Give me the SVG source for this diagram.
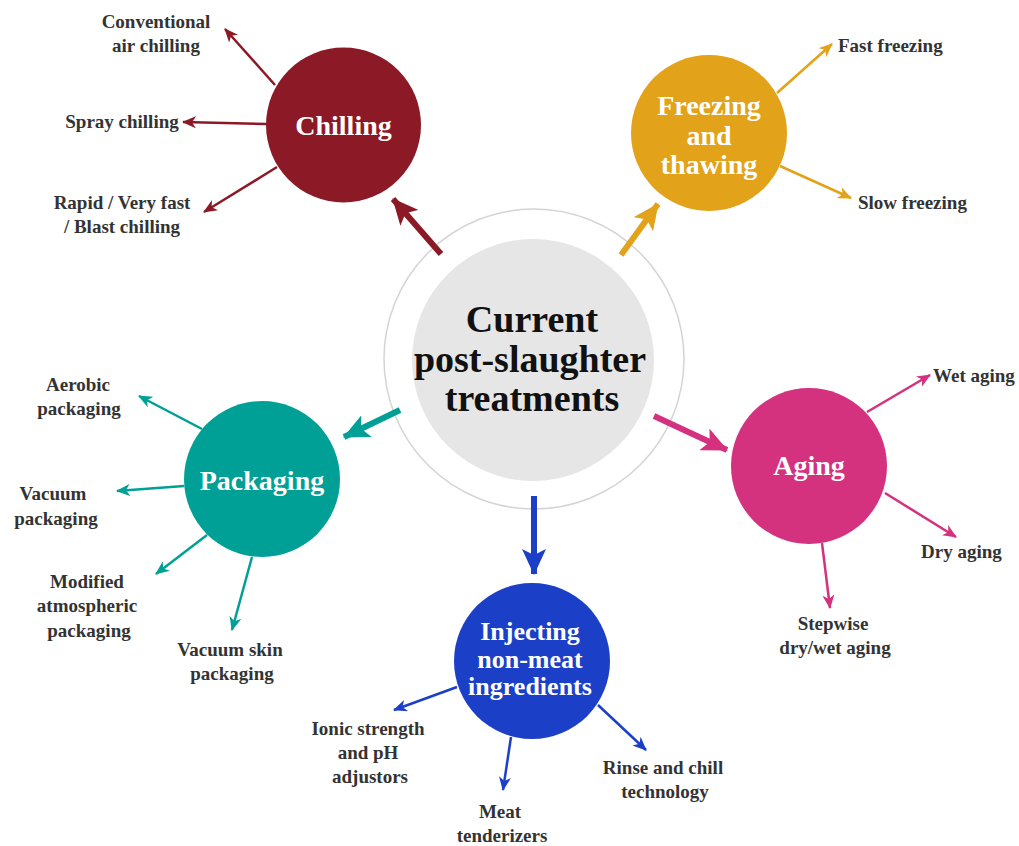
<svg xmlns="http://www.w3.org/2000/svg" width="1019" height="846" viewBox="0 0 1019 846">
<style>
.lbl{font-family:"Liberation Serif","Times New Roman",serif;font-weight:bold;font-size:19px;fill:#333333;text-anchor:middle}
.lbl.l{text-anchor:start}
.node{font-family:"Liberation Serif","Times New Roman",serif;font-weight:bold;font-size:28px;fill:#ffffff;text-anchor:middle}
.ctr{font-family:"Liberation Serif","Times New Roman",serif;font-weight:bold;font-size:38px;fill:#111111;text-anchor:middle}
.s{stroke-width:2.5;fill:none}
.b{stroke-width:6;fill:none}
</style>
<defs>
<marker id="sc" markerUnits="userSpaceOnUse" viewBox="0 0 14 12" markerWidth="14" markerHeight="12" refX="13" refY="6" orient="auto"><path d="M0,0 L14,6 L0,12 L4,6 z" fill="#8B1A26"/></marker>
<marker id="sf" markerUnits="userSpaceOnUse" viewBox="0 0 14 12" markerWidth="14" markerHeight="12" refX="13" refY="6" orient="auto"><path d="M0,0 L14,6 L0,12 L4,6 z" fill="#E2A21A"/></marker>
<marker id="sa" markerUnits="userSpaceOnUse" viewBox="0 0 14 12" markerWidth="14" markerHeight="12" refX="13" refY="6" orient="auto"><path d="M0,0 L14,6 L0,12 L4,6 z" fill="#D4317F"/></marker>
<marker id="sp" markerUnits="userSpaceOnUse" viewBox="0 0 14 12" markerWidth="14" markerHeight="12" refX="13" refY="6" orient="auto"><path d="M0,0 L14,6 L0,12 L4,6 z" fill="#00A096"/></marker>
<marker id="si" markerUnits="userSpaceOnUse" viewBox="0 0 14 12" markerWidth="14" markerHeight="12" refX="13" refY="6" orient="auto"><path d="M0,0 L14,6 L0,12 L4,6 z" fill="#1C3FC8"/></marker>
<marker id="bc" markerUnits="userSpaceOnUse" viewBox="0 0 26 24" markerWidth="26" markerHeight="24" refX="25" refY="12" orient="auto"><path d="M0,0 L26,12 L0,24 L6,12 z" fill="#8B1A26"/></marker>
<marker id="bf" markerUnits="userSpaceOnUse" viewBox="0 0 26 24" markerWidth="26" markerHeight="24" refX="25" refY="12" orient="auto"><path d="M0,0 L26,12 L0,24 L6,12 z" fill="#E2A21A"/></marker>
<marker id="ba" markerUnits="userSpaceOnUse" viewBox="0 0 26 24" markerWidth="26" markerHeight="24" refX="25" refY="12" orient="auto"><path d="M0,0 L26,12 L0,24 L6,12 z" fill="#D4317F"/></marker>
<marker id="bp" markerUnits="userSpaceOnUse" viewBox="0 0 26 24" markerWidth="26" markerHeight="24" refX="25" refY="12" orient="auto"><path d="M0,0 L26,12 L0,24 L6,12 z" fill="#00A096"/></marker>
<marker id="bi" markerUnits="userSpaceOnUse" viewBox="0 0 26 24" markerWidth="26" markerHeight="24" refX="25" refY="12" orient="auto"><path d="M0,0 L26,12 L0,24 L6,12 z" fill="#1C3FC8"/></marker>
</defs>
<rect width="1019" height="846" fill="#ffffff"/>

<g id="center">
<circle cx="534" cy="359" r="150" fill="#ffffff" stroke="#d4d4d4" stroke-width="1.5"/>
<circle cx="533" cy="360" r="121" fill="#e6e6e6"/>
<text class="ctr" x="532" y="332">Current</text>
<text class="ctr" x="530" y="372">post-slaughter</text>
<text class="ctr" x="532" y="411">treatments</text>
</g>

<g id="connectors">
<line class="b" stroke="#8B1A26" x1="441" y1="254" x2="393" y2="199" marker-end="url(#bc)"/>
<line class="b" stroke="#E2A21A" x1="621" y1="255" x2="658" y2="204" marker-end="url(#bf)"/>
<line class="b" stroke="#00A096" x1="400" y1="410" x2="344" y2="437" marker-end="url(#bp)"/>
<line class="b" stroke="#D4317F" x1="654" y1="416" x2="727" y2="450" marker-end="url(#ba)"/>
<line class="b" stroke="#1C3FC8" x1="534" y1="496" x2="534" y2="574" marker-end="url(#bi)"/>

<line class="s" stroke="#8B1A26" x1="275" y1="85" x2="225" y2="29" marker-end="url(#sc)"/>
<line class="s" stroke="#8B1A26" x1="266" y1="124" x2="183" y2="122" marker-end="url(#sc)"/>
<line class="s" stroke="#8B1A26" x1="277" y1="167" x2="204" y2="212" marker-end="url(#sc)"/>

<line class="s" stroke="#E2A21A" x1="777" y1="93" x2="832" y2="44" marker-end="url(#sf)"/>
<line class="s" stroke="#E2A21A" x1="780" y1="166" x2="851" y2="198" marker-end="url(#sf)"/>

<line class="s" stroke="#D4317F" x1="867" y1="412" x2="930" y2="375" marker-end="url(#sa)"/>
<line class="s" stroke="#D4317F" x1="885" y1="493" x2="956" y2="537" marker-end="url(#sa)"/>
<line class="s" stroke="#D4317F" x1="822" y1="543" x2="830" y2="608" marker-end="url(#sa)"/>

<line class="s" stroke="#00A096" x1="202" y1="429" x2="139" y2="396" marker-end="url(#sp)"/>
<line class="s" stroke="#00A096" x1="184" y1="486" x2="117" y2="491" marker-end="url(#sp)"/>
<line class="s" stroke="#00A096" x1="207" y1="535" x2="156" y2="574" marker-end="url(#sp)"/>
<line class="s" stroke="#00A096" x1="252" y1="557" x2="232" y2="630" marker-end="url(#sp)"/>

<line class="s" stroke="#1C3FC8" x1="457" y1="687" x2="394" y2="710" marker-end="url(#si)"/>
<line class="s" stroke="#1C3FC8" x1="511" y1="737" x2="503" y2="790" marker-end="url(#si)"/>
<line class="s" stroke="#1C3FC8" x1="598" y1="705" x2="646" y2="750" marker-end="url(#si)"/>
</g>

<g id="chilling">
<circle cx="343.5" cy="125" r="77.5" fill="#8B1A26"/>
<text class="node" x="343.5" y="135">Chilling</text>
</g>
<g id="freezing">
<circle cx="709" cy="133" r="78" fill="#E2A21A"/>
<text class="node" x="709" y="115">Freezing</text>
<text class="node" x="709" y="145">and</text>
<text class="node" x="709" y="174">thawing</text>
</g>
<g id="aging">
<circle cx="809" cy="466" r="78" fill="#D4317F"/>
<text class="node" x="809" y="475">Aging</text>
</g>
<g id="packaging">
<circle cx="262" cy="479" r="78" fill="#00A096"/>
<text class="node" x="262" y="490">Packaging</text>
</g>
<g id="injecting">
<circle cx="532" cy="661" r="78" fill="#1C3FC8"/>
<text class="node" x="530" y="640" style="font-size:26px">Injecting</text>
<text class="node" x="530" y="668" style="font-size:26px">non-meat</text>
<text class="node" x="530" y="695" style="font-size:26px">ingredients</text>
</g>

<g id="labels-chilling">
<text class="lbl" x="156" y="28">Conventional</text>
<text class="lbl" x="156" y="52">air chilling</text>
<text class="lbl" x="122" y="128">Spray chilling</text>
<text class="lbl" x="122" y="209">Rapid / Very fast</text>
<text class="lbl" x="122" y="233">/ Blast chilling</text>
</g>
<g id="labels-freezing">
<text class="lbl l" x="838" y="52">Fast freezing</text>
<text class="lbl l" x="858" y="209">Slow freezing</text>
</g>
<g id="labels-aging">
<text class="lbl l" x="933" y="382">Wet aging</text>
<text class="lbl l" x="921" y="558">Dry aging</text>
<text class="lbl" x="833" y="630">Stepwise</text>
<text class="lbl" x="835" y="654">dry/wet aging</text>
</g>
<g id="labels-packaging">
<text class="lbl" x="78" y="391">Aerobic</text>
<text class="lbl" x="79" y="415">packaging</text>
<text class="lbl" x="53" y="500">Vacuum</text>
<text class="lbl" x="56" y="525">packaging</text>
<text class="lbl" x="87" y="588">Modified</text>
<text class="lbl" x="87" y="612">atmospheric</text>
<text class="lbl" x="89" y="637">packaging</text>
<text class="lbl" x="230" y="656">Vacuum skin</text>
<text class="lbl" x="232" y="680">packaging</text>
</g>
<g id="labels-injecting">
<text class="lbl" x="368" y="735">Ionic strength</text>
<text class="lbl" x="368" y="759">and pH</text>
<text class="lbl" x="370" y="783">adjustors</text>
<text class="lbl" x="500" y="818">Meat</text>
<text class="lbl" x="502" y="842">tenderizers</text>
<text class="lbl" x="663" y="774">Rinse and chill</text>
<text class="lbl" x="665" y="798">technology</text>
</g>
</svg>
